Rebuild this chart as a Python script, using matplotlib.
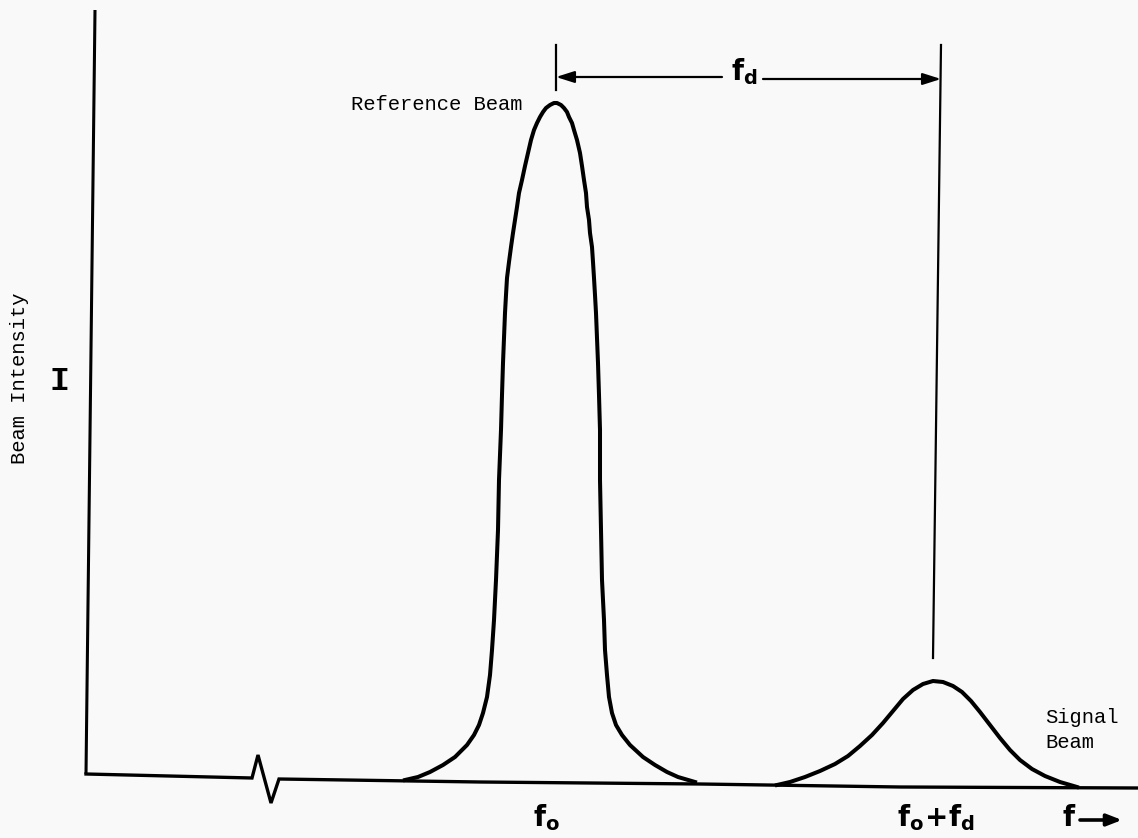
import matplotlib.pyplot as plt

# everything below is read off the scanned figure, in image pixel units
# (x to the right, y downward)

# reference beam peak: left flank bottom->top, then right flank top->bottom
ref_x = [405, 418, 430, 443, 455, 467, 474, 479, 483, 487, 490, 492, 494,
         496, 498, 499, 501, 502, 503, 504, 505, 506, 507, 509, 511, 513,
         515, 517, 519, 522, 525, 528, 531, 534, 537, 540, 543, 546, 550, 554,
         557, 561, 564, 567, 569, 572, 574, 577, 580, 582, 584, 586, 587,
         589, 590, 592, 593, 594, 595, 596, 597, 598, 599, 600, 600, 601, 602,
         604, 605, 607, 609, 612, 616, 622, 630, 643, 655, 667, 678, 695]
ref_y = [780, 777, 772, 765, 757, 745, 735, 725, 713, 697, 675, 650, 620,
         580, 530, 480, 430, 395, 363, 338, 313, 295, 278, 262, 247, 233,
         220, 207, 193, 180, 166, 153, 140, 130, 123, 117, 112, 108, 105, 103,
         103, 105, 108, 112, 117, 123, 130, 140, 153, 166, 180, 193, 207,
         220, 233, 247, 262, 278, 295, 313, 338, 363, 395, 430, 480, 530, 580,
         620, 650, 675, 697, 713, 725, 735, 745, 757, 765, 772, 777, 782]

# signal beam peak
sig_x = [777, 790, 805, 820, 835, 848, 860, 872, 883, 893, 903, 913, 923,
         933, 943, 953, 962, 971, 980, 990, 1000, 1010, 1020, 1032, 1045,
         1060, 1077]
sig_y = [785, 782, 777, 771, 764, 756, 746, 735, 723, 711, 699, 690, 684,
         681, 682, 686, 692, 701, 712, 725, 738, 750, 760, 769, 776,
         782, 787]

# frequency axis with the break mark
base_x = [86, 252, 258, 271, 279, 480, 700, 900, 1138]
base_y = [774, 778, 755, 803, 779, 782, 784, 787, 788]

# intensity axis
yax_x = [95, 86]
yax_y = [10, 774]

# f_d dimension marks
f0_pos = 556
fd_pos = 941
dim_y = 78

plt.rcParams['mathtext.fontset'] = 'custom'
plt.rcParams['mathtext.rm'] = 'DejaVu Sans'
plt.rcParams['mathtext.bf'] = 'DejaVu Sans:bold'

fig = plt.figure(figsize=(11.38, 8.38), dpi=100)
fig.patch.set_facecolor('#f9f9f9')
ax = fig.add_axes([0, 0, 1, 1])
ax.set_facecolor('#f9f9f9')
ax.set_xlim(0, 1138)
ax.set_ylim(838, 0)
ax.axis('off')

ax.plot(yax_x, yax_y, color='black', lw=2.2, solid_capstyle='butt')
ax.plot(base_x, base_y, color='black', lw=2.4, solid_joinstyle='miter')
ax.plot(ref_x, ref_y, color='black', lw=2.9, solid_joinstyle='round')
ax.plot(sig_x, sig_y, color='black', lw=2.9, solid_joinstyle='round')

# vertical markers
ax.plot([f0_pos, f0_pos], [45, 90], color='black', lw=1.6)
ax.plot([fd_pos, 933], [45, 658], color='black', lw=1.6)

# dimension arrows
arr = dict(arrowstyle='-|>,head_length=1.1,head_width=0.35', lw=1.6,
           color='black', shrinkA=0, shrinkB=0)
ax.annotate('', xy=(f0_pos, dim_y - 1), xytext=(722, dim_y - 1), arrowprops=arr)
ax.annotate('', xy=(fd_pos, dim_y + 1), xytext=(763, dim_y + 1), arrowprops=arr)
ax.text(744, 72, r'$\mathbf{f_d}$', fontsize=20, ha='center', va='center')

mono = 'Liberation Mono'
ax.text(351, 104, 'Reference Beam', family=mono, fontsize=14.8, ha='left', va='center')
ax.text(1045, 717, 'Signal', family=mono, fontsize=14.8, ha='left', va='center')
ax.text(1045, 742, 'Beam', family=mono, fontsize=14.8, ha='left', va='center')
ax.text(20, 378, 'Beam Intensity', family=mono, fontsize=14.8, rotation=90,
        ha='center', va='center')
ax.text(60, 381, 'I', family=mono, fontsize=24, fontweight='bold',
        ha='center', va='center')

ax.text(546, 818, r'$\mathbf{f_o}$', fontsize=20, ha='center', va='center')
ax.text(936, 818, r'$\mathbf{f_o\!+\!f_d}$', fontsize=20, ha='center', va='center')
ax.text(1069, 818, r'$\mathbf{f}$', fontsize=20, ha='center', va='center')
ax.annotate('', xy=(1122, 820), xytext=(1080, 820),
            arrowprops=dict(arrowstyle='-|>,head_length=0.9,head_width=0.35',
                            lw=2.6, color='black', shrinkA=0, shrinkB=0))

fig.savefig('out.png', dpi=100, facecolor=fig.get_facecolor())
